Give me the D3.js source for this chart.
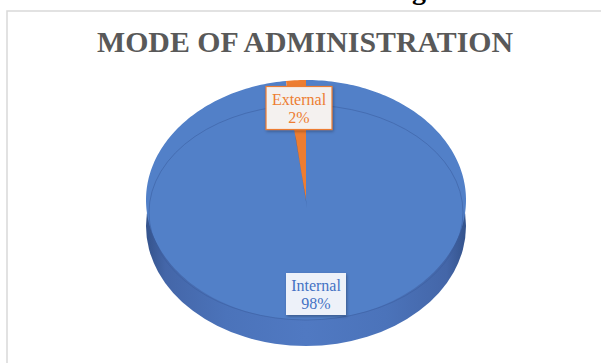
<!DOCTYPE html>
<html><head><meta charset="utf-8">
<script src="https://cdn.jsdelivr.net/npm/d3@7"></script>
<style>html,body{margin:0;padding:0;background:#fff;overflow:hidden}</style>
</head><body>
<svg id="c" width="601" height="363"></svg>
<script>
const categories = ["Internal", "External"];
const values = [98, 2];
const pctLabels = ["98%", "2%"];
const titleText = "MODE OF ADMINISTRATION";

const colors = {Internal: "#5280c8", External: "#ED7D31"};
const textColors = {Internal: "#4472C4", External: "#ED7D31"};

const svg = d3.select("#c");
const W = 601, H = 363;

// clipped text from above
svg.append("text").attr("x", 412).attr("y", -1)
  .attr("font-family", "Liberation Serif").attr("font-weight", "bold")
  .attr("font-size", 28).attr("fill", "#000").text("g");

// chart frame
svg.append("rect").attr("x", 7).attr("y", 11).attr("width", 620).attr("height", 400)
  .attr("fill", "#fff").attr("stroke", "#d9d9d9").attr("stroke-width", 1.5);

svg.append("text").attr("x", 305).attr("y", 52).attr("text-anchor", "middle")
  .attr("font-family", "Liberation Serif").attr("font-weight", "bold")
  .attr("font-size", 30).attr("fill", "#595959")
  .attr("textLength", 416).attr("lengthAdjust", "spacingAndGlyphs")
  .text(titleText);

const cx = 306, cy = 200, rx = 160, ry = 120, depth = 26;

const defs = svg.append("defs");
const g1 = defs.append("linearGradient").attr("id", "side").attr("x1", "0").attr("x2", "1").attr("y1", "0").attr("y2", "0");
[[0, "#34538c"], [0.06, "#4466a8"], [0.25, "#4b73ba"], [0.5, "#5079c2"], [0.75, "#4b73ba"], [0.94, "#4466a8"], [1, "#34538c"]]
  .forEach(([o, c]) => g1.append("stop").attr("offset", o).attr("stop-color", c));
const f = defs.append("filter").attr("id", "sh").attr("x", "-20%").attr("y", "-20%").attr("width", "140%").attr("height", "140%");
f.append("feDropShadow").attr("dx", 1).attr("dy", 1.5).attr("stdDeviation", 1.5).attr("flood-color", "#000").attr("flood-opacity", 0.3);

const pie = d3.pie().sort(null).value(d => d.value)
  .startAngle(0).endAngle(2 * Math.PI);
const data = categories.map((c, i) => ({name: c, value: values[i], pct: pctLabels[i]}));
const arcs = pie(data);

const proj = (a, r = 1, dy = 0) => [cx + rx * r * Math.sin(a), cy - ry * r * Math.cos(a) + dy];

// side (extrusion)
svg.append("ellipse").attr("cx", cx).attr("cy", cy + depth).attr("rx", rx).attr("ry", ry)
  .attr("fill", "url(#side)");

// top face slices
const line = d3.line();
arcs.forEach(a => {
  const n = Math.max(4, Math.ceil((a.endAngle - a.startAngle) / 0.02));
  const pts = [[cx, cy]];
  for (let i = 0; i <= n; i++) pts.push(proj(a.startAngle + (a.endAngle - a.startAngle) * i / n));
  svg.append("path").attr("d", line(pts) + "Z").attr("fill", colors[a.data.name]);
});

// faint bevel line on top face
svg.append("ellipse").attr("cx", cx).attr("cy", cy + 12.5).attr("rx", rx - 3).attr("ry", ry - 12.5)
  .attr("fill", "none").attr("stroke", "#3a5d9e").attr("stroke-opacity", 0.55).attr("stroke-width", 1);

// wall sliver of the large slice beside the small one
const ext = arcs[1];
const w1 = proj(ext.startAngle, 0.55), w2 = [cx, cy], w3 = [cx + 1, cy + 8];
svg.append("path").attr("d", line([w1, w2, w3, [w1[0] + 1, w1[1] + 4]]) + "Z")
  .attr("fill", "#2f4e88").attr("opacity", 0.75);

// labels
const labelPos = {Internal: [316, 294], External: [299, 108]};
arcs.forEach(a => {
  const [lx, ly] = labelPos[a.data.name];
  const isExt = a.data.name === "External";
  const bw = isExt ? 66 : 60, bh = isExt ? 43 : 42;
  svg.append("rect").attr("x", lx - bw / 2).attr("y", ly - bh / 2).attr("width", bw).attr("height", bh)
    .attr("fill", isExt ? "#f4f1ef" : "#edf1f9")
    .attr("stroke", isExt ? "#ED7D31" : "none").attr("stroke-width", 1.2)
    .attr("filter", "url(#sh)");
  const t = svg.append("text").attr("text-anchor", "middle")
    .attr("font-family", "Liberation Serif").attr("font-size", 16)
    .attr("fill", textColors[a.data.name]);
  t.append("tspan").attr("x", lx).attr("y", ly - 3).text(a.data.name);
  t.append("tspan").attr("x", lx).attr("y", ly + 15).text(a.data.pct);
});
</script>
</body></html>
